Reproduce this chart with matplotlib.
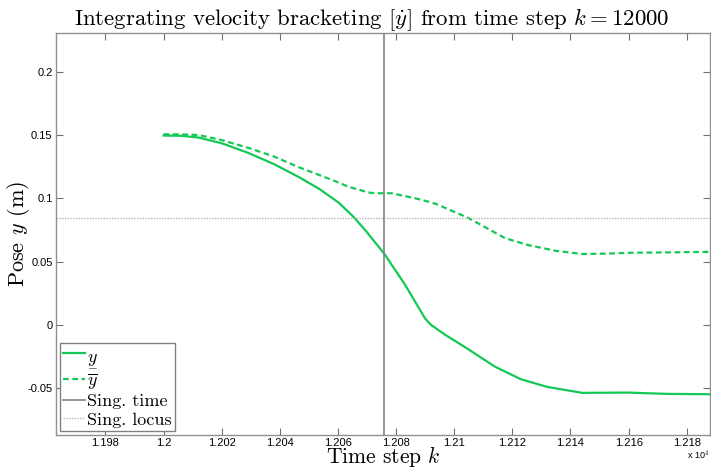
import matplotlib
matplotlib.use("Agg")
import matplotlib.pyplot as plt
from matplotlib.ticker import FuncFormatter

plt.rcParams["mathtext.fontset"] = "cm"
plt.rcParams["axes.unicode_minus"] = False

# ── data ──────────────────────────────────────────────────────────────────
k_lower = [12000, 12006, 12012, 12020, 12029, 12038, 12046.6, 12053.5, 12060.3,
           12065.5, 12069.5, 12076, 12083, 12090, 12092, 12097, 12104, 12114,
           12123, 12132, 12144, 12160, 12173, 12188]
y_lower = [0.1496, 0.1494, 0.148, 0.1435, 0.136, 0.127, 0.1167, 0.1075, 0.0965,
           0.0850, 0.0745, 0.0560, 0.0320, 0.005, 0.0, -0.008, -0.018, -0.033,
           -0.043, -0.049, -0.0537, -0.0535, -0.0545, -0.0548]

k_upper = [12000, 12006, 12012, 12020, 12029.5, 12038, 12046.6, 12058, 12063.8,
           12070.7, 12073, 12078.5, 12086.6, 12091, 12094, 12105, 12117.5,
           12125.5, 12135, 12144, 12152, 12161, 12175, 12188]
y_upper = [0.1506, 0.1505, 0.150, 0.146, 0.1396, 0.133, 0.1245, 0.1145, 0.109,
           0.1045, 0.104, 0.104, 0.100, 0.0974, 0.0953, 0.0843, 0.0685,
           0.063, 0.0585, 0.056, 0.0563, 0.057, 0.0573, 0.0577]

sing_time = 12076
sing_locus = 0.0843

x_ticks = [11980, 12000, 12020, 12040, 12060, 12080, 12100, 12120, 12140, 12160, 12180]
y_ticks = [-0.05, 0, 0.05, 0.1, 0.15, 0.2]
y_ticklabels = ["-0.05", "0", "0.05", "0.1", "0.15", "0.2"]

GREEN = "#14c855"
SERIF = "cmr10"

fig = plt.figure(figsize=(7.11, 4.68), dpi=100)
ax = fig.add_axes([0.0788, 0.0705, 0.9198, 0.859])

ax.plot(k_lower, y_lower, color=GREEN, lw=1.6, label=r"$\underset{-}{y}$")
ax.plot(k_upper, y_upper, color=GREEN, lw=1.6, ls=(0, (2.6, 1.6)), label=r"$\overline{y}$")
ax.axvline(sing_time, color="#808080", lw=1.2, label="Sing. time")
ax.axhline(sing_locus, color="#b4b4b4", lw=1.0, ls=(0, (1, 1)), label="Sing. locus")

ax.set_xlim(11963, 12188)
ax.set_ylim(-0.087, 0.2306)
ax.set_xticks(x_ticks)
ax.xaxis.set_major_formatter(FuncFormatter(lambda v, p: f"{v / 1e4:g}"))
ax.set_yticks(y_ticks)
ax.set_yticklabels(y_ticklabels)
ax.tick_params(direction="in", top=True, right=True, length=5, width=0.8,
               color="#707070", labelsize=8, pad=2.5)
for lab in ax.get_xticklabels() + ax.get_yticklabels():
    lab.set_family("Liberation Sans")
for s in ax.spines.values():
    s.set_color("#909090")
    s.set_linewidth(1.0)

ax.set_title(r"Integrating velocity bracketing $[\dot{y}]$ from time step $k = 12000$",
             fontsize=16.4, family=SERIF, pad=6, x=0.482)
ax.set_xlabel(r"Time step $k$", fontsize=15.5, family=SERIF, labelpad=-3.2)
ax.set_ylabel(r"Pose $y$ (m)", fontsize=16, family=SERIF, labelpad=-3)
fig.text(0.998, 0.026, r"x 10$^4$", ha="right", va="center", fontsize=6.5,
         family="Liberation Sans")

leg = ax.legend(loc="lower left", prop={"family": SERIF, "size": 13},
                fancybox=False, framealpha=1, edgecolor="#808080",
                handlelength=1.2, handletextpad=0.1, borderpad=0.2,
                labelspacing=0.15, borderaxespad=0.2)
leg.get_frame().set_linewidth(1.0)

fig.savefig("out.png", dpi=100)
